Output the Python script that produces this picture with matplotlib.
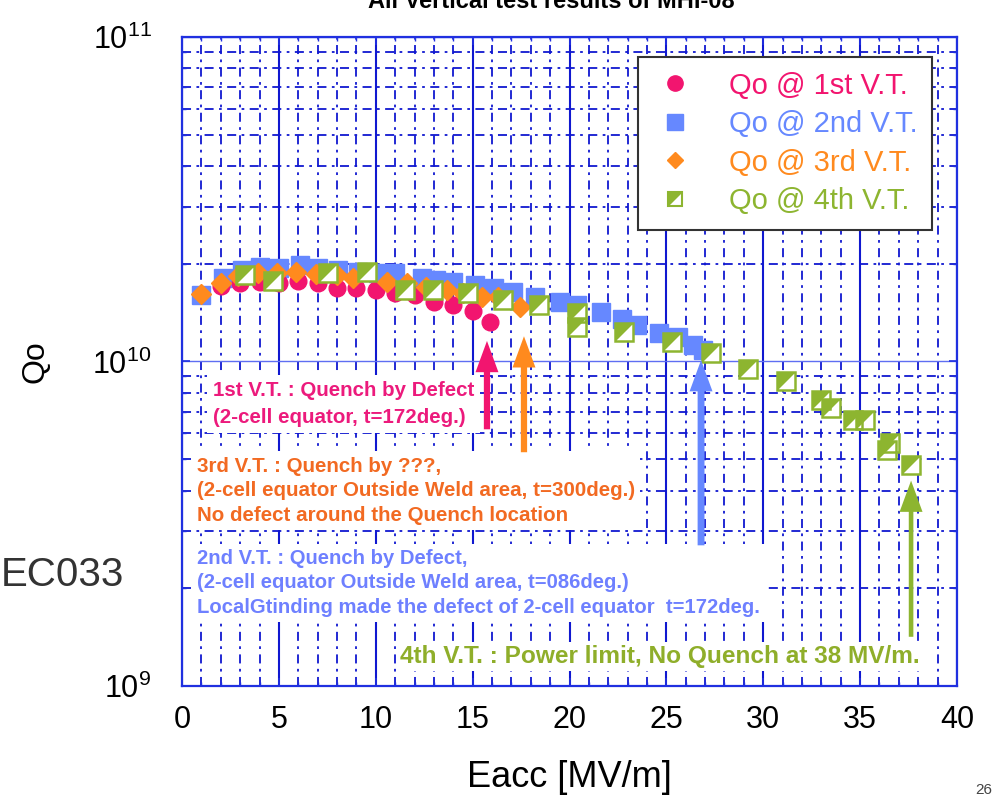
import matplotlib
matplotlib.use("Agg")
import matplotlib.pyplot as plt
from matplotlib.lines import Line2D
from matplotlib.legend_handler import HandlerTuple
from matplotlib.ticker import FixedLocator, LogLocator, NullFormatter
from matplotlib.patches import FancyArrowPatch

plt.rcParams['font.family'] = ['Liberation Sans', 'DejaVu Sans']
plt.rcParams['mathtext.default'] = 'regular'

# ---- measured Qo vs Eacc for the four vertical tests ----
eacc_vt1 = [2.0, 3.0, 4.0, 5.0, 6.0, 7.0, 8.0, 9.0, 10.0, 11.0, 12.0, 13.0, 14.0, 15.0, 15.9]
qo_vt1 = [1.71e10, 1.74e10, 1.76e10, 1.75e10, 1.77e10, 1.74e10, 1.69e10, 1.68e10, 1.66e10,
          1.63e10, 1.60e10, 1.53e10, 1.49e10, 1.43e10, 1.32e10]

eacc_vt2 = [1.0, 2.1, 3.1, 4.0, 5.0, 6.1, 7.0, 8.05, 9.1, 10.1, 11.0, 12.4, 13.1, 14.0, 15.1,
            16.1, 17.1, 18.2, 19.5, 20.4, 21.6, 22.7, 23.5, 24.6, 25.6, 26.4, 26.9]
qo_vt2 = [1.60e10, 1.81e10, 1.915e10, 1.956e10, 1.94e10, 1.985e10, 1.94e10, 1.915e10, 1.887e10,
          1.874e10, 1.874e10, 1.81e10, 1.783e10, 1.758e10, 1.72e10, 1.685e10, 1.637e10, 1.585e10,
          1.525e10, 1.493e10, 1.421e10, 1.35e10, 1.296e10, 1.224e10, 1.19e10, 1.124e10, 1.085e10]

eacc_vt3 = [1.0, 2.0, 2.9, 3.9, 4.9, 5.9, 6.9, 8.0, 8.8, 10.6, 11.6, 12.6, 13.7, 14.5, 15.5,
            16.3, 17.45]
qo_vt3 = [1.61e10, 1.74e10, 1.83e10, 1.874e10, 1.874e10, 1.887e10, 1.86e10, 1.848e10, 1.81e10,
          1.758e10, 1.745e10, 1.70e10, 1.66e10, 1.625e10, 1.585e10, 1.585e10, 1.477e10]

eacc_vt4 = [3.25, 4.7, 7.55, 9.55, 11.5, 12.96, 14.76, 16.57, 18.4, 20.4, 20.4, 22.8, 25.3,
            27.3, 29.2, 31.2, 33.0, 33.5, 34.65, 35.25, 36.55, 36.4, 37.65]
qo_vt4 = [1.85e10, 1.77e10, 1.87e10, 1.89e10, 1.66e10, 1.66e10, 1.625e10, 1.547e10, 1.493e10,
          1.41e10, 1.28e10, 1.23e10, 1.148e10, 1.062e10, 9.5e9, 8.71e9, 7.61e9, 7.19e9,
          6.60e9, 6.60e9, 5.61e9, 5.34e9, 4.80e9]

series_labels = ['Qo @ 1st V.T.', 'Qo @ 2nd V.T.', 'Qo @ 3rd V.T.', 'Qo @ 4th V.T.']
x_ticks = [0, 5, 10, 15, 20, 25, 30, 35, 40]

PINK = '#F2156F'
BLUE = '#6688FF'
ORANGE = '#FF8A1E'
GREEN = '#8DB530'
PINK_TXT = '#EC1A7C'
ORANGE_TXT = '#F26A22'
BLUE_TXT = '#6E80FF'
GREEN_TXT = '#8FAE2A'
GRID = '#1018D0'

fig = plt.figure(figsize=(9.92, 8.01), dpi=100)
ax = fig.add_axes([0.1835, 0.1436, 0.7812, 0.8102])
ax.set_xlim(0, 40)
ax.set_yscale('log')
ax.set_ylim(1e9, 1e11)

# grid: solid majors, dash-dot minors
ax.xaxis.set_major_locator(FixedLocator(x_ticks))
ax.xaxis.set_minor_locator(FixedLocator([v for v in range(1, 40) if v % 5]))
ax.yaxis.set_major_locator(LogLocator(base=10, numticks=5))
ax.yaxis.set_minor_locator(LogLocator(base=10, subs=range(2, 10), numticks=20))
ax.yaxis.set_minor_formatter(NullFormatter())
ax.grid(True, which='major', axis='x', color=GRID, lw=1.5, ls='-', zorder=0)
ax.grid(True, which='major', axis='y', color='#5F6EF2', lw=1.0, ls='-', zorder=0)
ax.grid(True, which='minor', axis='both', color=GRID, lw=1.3, ls=(0, (5, 3, 1.5, 3)), zorder=0)
ax.set_axisbelow(True)

for sp in ax.spines.values():
    sp.set_color('#2030E0')
    sp.set_linewidth(1.6)
ax.tick_params(which='both', direction='in', top=True, right=True, color='#2030E0')
ax.tick_params(which='major', length=6, width=1.2)
ax.tick_params(which='minor', length=3, width=1.0)
ax.tick_params(axis='x', which='major', labelsize=22, pad=14)
ax.tick_params(axis='y', which='major', labelsize=22, pad=22)

# data
ax.plot(eacc_vt2, qo_vt2, ls='none', marker='s', ms=13, mfc=BLUE, mec=BLUE, zorder=3)
ax.plot(eacc_vt1, qo_vt1, ls='none', marker='o', ms=12, mfc=PINK, mec=PINK, zorder=4)
ax.plot(eacc_vt3, qo_vt3, ls='none', marker='D', ms=10, mfc=ORANGE, mec=ORANGE, zorder=5)
TRI = [(-1, -1), (-1, 1), (1, 1)]
ax.plot(eacc_vt4, qo_vt4, ls='none', marker='s', ms=13, mfc='white', mec='none', zorder=6)
ax.plot(eacc_vt4, qo_vt4, ls='none', marker=TRI, ms=13, mfc=GREEN, mec='none', zorder=7)
ax.plot(eacc_vt4, qo_vt4, ls='none', marker='s', ms=13, mfc='none', mec=GREEN, mew=1.8, zorder=8)

ax.set_xlabel('Eacc [MV/m]', fontsize=26, labelpad=18)
ax.set_ylabel('Qo', fontsize=23, labelpad=30)

# arrows pointing at the last point of each test
def up_arrow(x, y0, y1, color, width):
    arr = FancyArrowPatch((x, y0), (x, y1), transform=ax.transData,
                          arrowstyle=f'simple,head_length=1.5,head_width=1.1,tail_width={width}',
                          mutation_scale=15, color=color, zorder=9, lw=0)
    ax.add_patch(arr)

up_arrow(15.74, 6.06e9, 1.18e10, PINK, 0.3)
up_arrow(17.65, 5.15e9, 1.22e10, ORANGE, 0.3)
up_arrow(26.79, 2.66e9, 1.03e10, BLUE, 0.33)
up_arrow(37.63, 1.39e9, 4.38e9, GREEN, 0.22)

box = dict(facecolor='white', edgecolor='none', pad=4)
ax.text(0.04, 0.47, '1st V.T. : Quench by Defect\n(2-cell equator, t=172deg.)',
        transform=ax.transAxes, ha='left', va='top', fontsize=14.8, fontweight='bold',
        color=PINK_TXT, linespacing=1.55, bbox=box, zorder=8)
ax.text(0.019, 0.353, '3rd V.T. : Quench by ???,\n(2-cell equator Outside Weld area, t=300deg.)\n'
        'No defect around the Quench location',
        transform=ax.transAxes, ha='left', va='top', fontsize=14.8, fontweight='bold',
        color=ORANGE_TXT, linespacing=1.36, bbox=box, zorder=8)
ax.text(0.019, 0.211, '2nd V.T. : Quench by Defect,\n(2-cell equator Outside Weld area, t=086deg.)\n'
        'LocalGtinding made the defect of 2-cell equator  t=172deg.',
        transform=ax.transAxes, ha='left', va='top', fontsize=14.6, fontweight='bold',
        color=BLUE_TXT, linespacing=1.36, bbox=box, zorder=8)
ax.text(0.281, 0.063, '4th V.T. : Power limit, No Quench at 38 MV/m.',
        transform=ax.transAxes, ha='left', va='top', fontsize=17.6, fontweight='bold',
        color=GREEN_TXT, bbox=dict(facecolor='white', edgecolor='none', pad=2), zorder=8)

# legend
h1 = Line2D([], [], ls='none', marker='o', ms=11, mfc=PINK, mec=PINK)
h2 = Line2D([], [], ls='none', marker='s', ms=11, mfc=BLUE, mec=BLUE)
h3 = Line2D([], [], ls='none', marker='D', ms=8, mfc=ORANGE, mec=ORANGE)
h4a = Line2D([], [], ls='none', marker=TRI, ms=10, mfc=GREEN, mec='none')
h4b = Line2D([], [], ls='none', marker='s', ms=10, mfc='none', mec=GREEN, mew=1.5)
leg = ax.legend([h1, h2, h3, (h4a, h4b)], series_labels,
                handler_map={tuple: HandlerTuple(ndivide=1)},
                loc='upper right', bbox_to_anchor=(0.9677, 0.969), borderaxespad=0,
                fontsize=21, frameon=True, fancybox=False, framealpha=1,
                edgecolor='#333333', labelspacing=0.36, handletextpad=1.1,
                borderpad=0.5, handlelength=1.5)
leg.get_frame().set_linewidth(1.5)
leg.set_zorder(10)
for txt, c in zip(leg.get_texts(), [PINK, BLUE, ORANGE, GREEN]):
    txt.set_color(c)

fig.text(0.556, 1 - 8 / 801, 'All Vertical test results of MHI-08', ha='center',
         va='baseline', fontsize=17, fontweight='bold')
fig.text(1 / 992, 1 - 575 / 801, 'EC033', ha='left', va='center', fontsize=29,
         color='#333333')
fig.text(975 / 992, 1 - 790 / 801, '26', ha='left', va='center', fontsize=11,
         color='#444444')

fig.savefig('out.png', dpi=100)
